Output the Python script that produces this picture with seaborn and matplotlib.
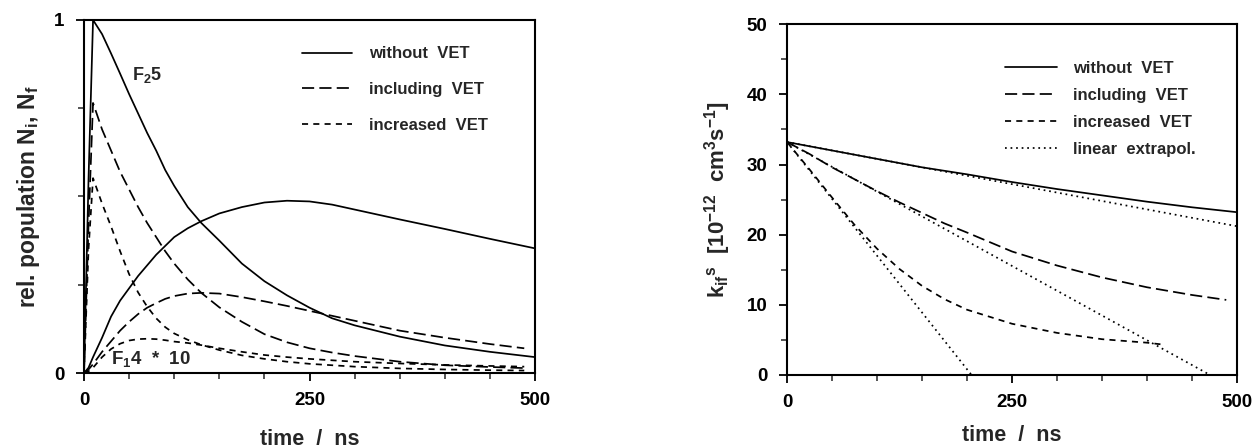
import matplotlib
matplotlib.use('Agg')
import matplotlib.pyplot as plt
import seaborn as sns

# left panel: relative populations (F2 5 decays, F1 4 * 10 rises)
t_left = [0, 5, 10, 20, 30, 40, 50, 60, 70, 80, 90, 100, 115, 130, 150,
          175, 200, 225, 250, 275, 300, 350, 400, 450, 500]
t_left_vet = t_left[:-1] + [488]

f2_without = [0, 0.55, 1.0, 0.96, 0.905, 0.848, 0.79, 0.735, 0.68, 0.63, 0.575, 0.53, 0.47, 0.425,
              0.375, 0.31, 0.26, 0.22, 0.185, 0.155, 0.135, 0.103, 0.078, 0.06, 0.045]
f1_without = [0, 0.015, 0.045, 0.1, 0.16, 0.205, 0.24, 0.275, 0.305, 0.335, 0.36, 0.385, 0.41, 0.43,
              0.452, 0.47, 0.483, 0.488, 0.486, 0.477, 0.463, 0.435, 0.408, 0.38, 0.353]
f2_including = [0, 0.42, 0.765, 0.69, 0.63, 0.57, 0.52, 0.47, 0.425, 0.385, 0.345, 0.31, 0.265, 0.227,
                0.186, 0.145, 0.11, 0.087, 0.07, 0.058, 0.048, 0.032, 0.022, 0.017, 0.014]
f1_including = [0, 0.01, 0.025, 0.06, 0.09, 0.12, 0.145, 0.167, 0.185, 0.198, 0.21, 0.218, 0.225, 0.227,
                0.225, 0.215, 0.203, 0.19, 0.176, 0.162, 0.148, 0.12, 0.1, 0.082, 0.07]
f2_increased = [0, 0.35, 0.552, 0.48, 0.415, 0.345, 0.28, 0.228, 0.188, 0.155, 0.13, 0.112, 0.094, 0.08,
                0.065, 0.05, 0.04, 0.032, 0.026, 0.022, 0.018, 0.013, 0.01, 0.008, 0.007]
f1_increased = [0, 0.005, 0.015, 0.045, 0.068, 0.083, 0.092, 0.096, 0.097, 0.096, 0.093, 0.089, 0.085, 0.079,
                0.07, 0.06, 0.051, 0.045, 0.04, 0.036, 0.032, 0.027, 0.023, 0.02, 0.018]

# right panel: k_if^s rate coefficient
t_right = [0, 25, 50, 75, 100, 125, 150, 175, 200, 250, 300, 350, 400, 450, 500]
k_without = [33.2, 32.6, 32.0, 31.4, 30.8, 30.2, 29.6, 29.1, 28.6, 27.5, 26.5, 25.6, 24.7, 23.9, 23.2]
t_right_inc = [0, 25, 50, 75, 100, 125, 150, 175, 200, 250, 300, 350, 400, 450, 488]
k_including = [33.2, 31.5, 29.6, 27.9, 26.2, 24.6, 23.1, 21.6, 20.3, 17.6, 15.6, 13.9, 12.5, 11.4, 10.7]
t_right_incr = [0, 25, 50, 75, 100, 125, 150, 175, 200, 250, 300, 350, 400, 420]
k_increased = [33.2, 29.3, 25.3, 21.4, 18.0, 15.1, 12.7, 10.8, 9.3, 7.3, 6.0, 5.1, 4.6, 4.3]
# linear extrapolations (start, end)
t_lin1, k_lin1 = [0, 500], [33.2, 21.2]
t_lin2, k_lin2 = [0, 470], [33.2, 0]
t_lin3, k_lin3 = [0, 205], [33.2, 0]

legend_left = ['without  VET', 'including  VET', 'increased  VET']
legend_right = ['without  VET', 'including  VET', 'increased  VET', 'linear  extrapol.']

sns.set_style('ticks')
plt.rcParams['font.family'] = ['Liberation Sans', 'DejaVu Sans']
plt.rcParams['font.weight'] = 'bold'
plt.rcParams['mathtext.fontset'] = 'custom'
plt.rcParams['mathtext.rm'] = 'Liberation Sans:bold'
plt.rcParams['mathtext.it'] = 'Liberation Sans:bold'
plt.rcParams['mathtext.bf'] = 'Liberation Sans:bold'
plt.rcParams['axes.linewidth'] = 1.5

LW = 1.25
SOLID = '-'
LONG = (0, (7, 3))
SHORT = (0, (3.5, 3))
DOT = (0, (1, 2.2))

fig = plt.figure(figsize=(12.54, 4.48), dpi=100)
ax1 = fig.add_axes([0.067, 0.1674, 0.3597, 0.788])
ax2 = fig.add_axes([0.6276, 0.163, 0.3589, 0.783])

# --- left
for x, y, ls in [(t_left, f2_without, SOLID), (t_left, f1_without, SOLID),
                 (t_left_vet, f2_including, LONG), (t_left_vet, f1_including, LONG),
                 (t_left_vet, f2_increased, SHORT), (t_left_vet, f1_increased, SHORT)]:
    sns.lineplot(x=x, y=y, ax=ax1, color='k', lw=LW, linestyle=ls, legend=False)

ax1.set_xlim(0, 500)
ax1.set_ylim(0, 1)
ax1.set_xticks([0, 250, 500])
ax1.set_xticks(range(0, 501, 50), minor=True)
ax1.set_yticks([0, 1])
ax1.set_yticks([0.25, 0.5, 0.75], minor=True)
ax1.set_xlabel('time  /  ns', fontsize=15.5, fontweight='bold', labelpad=14)
ax1.set_ylabel('rel. population N$_i$, N$_f$', fontsize=16.5, fontweight='bold', labelpad=9)
ax1.text(53, 0.845, 'F$_2$5', fontsize=13, fontweight='bold', va='center')
ax1.text(30, 0.04, 'F$_1$4  *  10', fontsize=13.5, fontweight='bold', va='center')
h1 = [ax1.lines[0], ax1.lines[2], ax1.lines[4]]
ax1.legend(h1, legend_left, loc='upper left', bbox_to_anchor=(0.483, 0.925), frameon=False,
           fontsize=12, handlelength=3.0, handletextpad=1.0, labelspacing=1.25,
           borderpad=0, borderaxespad=0)

# --- right
for x, y, ls in [(t_right, k_without, SOLID), (t_right_inc, k_including, LONG),
                 (t_right_incr, k_increased, SHORT), (t_lin1, k_lin1, DOT),
                 (t_lin2, k_lin2, DOT), (t_lin3, k_lin3, DOT)]:
    sns.lineplot(x=x, y=y, ax=ax2, color='k', lw=LW, linestyle=ls, legend=False)

ax2.set_xlim(0, 500)
ax2.set_ylim(0, 50)
ax2.set_xticks([0, 250, 500])
ax2.set_xticks(range(0, 501, 50), minor=True)
ax2.set_yticks(range(0, 51, 10))
ax2.set_yticks(range(5, 50, 10), minor=True)
ax2.set_xlabel('time  /  ns', fontsize=15.5, fontweight='bold', labelpad=10)
ax2.set_ylabel('k$_{if}$$^{s}$  [10$^{-12}$  cm$^{3}$s$^{-1}$]', fontsize=16, fontweight='bold', labelpad=10)
h2 = [ax2.lines[0], ax2.lines[1], ax2.lines[2], ax2.lines[3]]
ax2.legend(h2, legend_right, loc='upper left', bbox_to_anchor=(0.484, 0.895), frameon=False,
           fontsize=12, handlelength=3.1, handletextpad=1.0, labelspacing=0.72,
           borderpad=0, borderaxespad=0)

for ax in (ax1, ax2):
    for s in ax.spines.values():
        s.set_visible(True)
        s.set_color('k')
        s.set_linewidth(1.5)
    ax.tick_params(which='major', direction='out', length=6, width=1.3, pad=8,
                   labelsize=13.5, colors='k')
    ax.tick_params(which='minor', direction='out', length=4, width=1.1)
    for lab in ax.get_xticklabels() + ax.get_yticklabels():
        lab.set_fontweight('bold')

fig.savefig('out.png', dpi=100)
